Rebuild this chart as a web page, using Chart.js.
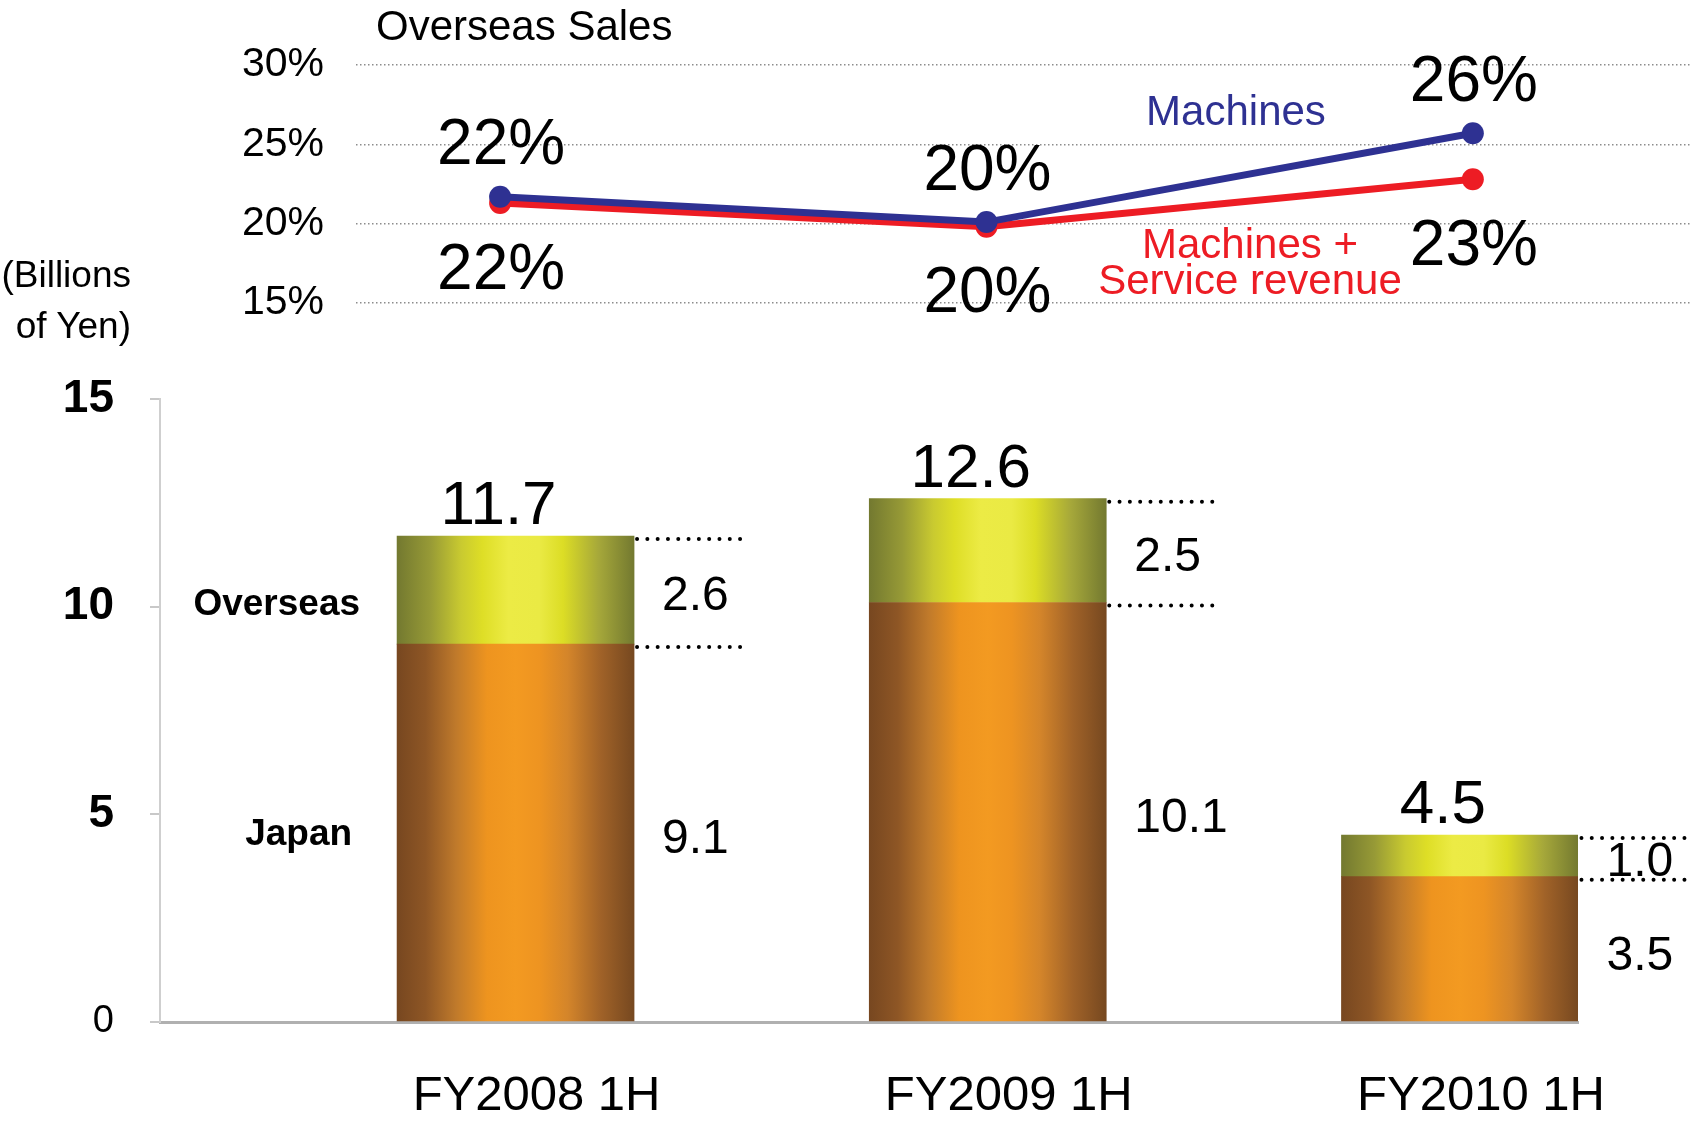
<!DOCTYPE html>
<html>
<head>
<meta charset="utf-8">
<script src="https://cdn.jsdelivr.net/npm/chart.js@4.4.1/dist/chart.umd.min.js"></script>
<style>
html,body{margin:0;padding:0;background:#fff;width:1701px;height:1125px;overflow:hidden;font-family:"Liberation Sans",Arial,sans-serif;}
#wrap{position:relative;width:1701px;height:1125px;}
canvas{position:absolute;left:0;top:0;}
.t{position:absolute;white-space:nowrap;line-height:1;color:#000;}
.c{transform:translateX(-50%);}
.r{transform:translateX(-100%);}
</style>
</head>
<body>
<div id="wrap">
<canvas id="bars" width="1701" height="1125"></canvas>
<canvas id="lines" width="1701" height="1125"></canvas>
<div class="t" style="left:376px;top:5px;font-size:42px;">Overseas Sales</div>
<div class="t r" style="left:131px;top:256px;font-size:37px;">(Billions</div>
<div class="t r" style="left:131px;top:307px;font-size:37px;">of Yen)</div>
<div class="t c" style="left:1236px;top:90px;font-size:42px;color:#2E3192;">Machines</div>
<div class="t c" style="left:1250px;top:223px;font-size:42px;color:#ED1C24;">Machines +</div>
<div class="t c" style="left:1250px;top:259px;font-size:42px;color:#ED1C24;">Service revenue</div>
</div>
<script>
// ---------------- data ----------------
const categories = ['FY2008 1H', 'FY2009 1H', 'FY2010 1H'];
const japanSales = [9.1, 10.1, 3.5];          // billions of yen
const overseasSales = [2.6, 2.5, 1.0];        // billions of yen
const amountTicks = [0, 5, 10, 15];
const machinesRatio = [21.7, 20.1, 25.7];          // overseas share, machines (%)
const machinesServiceRatio = [21.3, 19.8, 22.8];   // overseas share, machines + service (%)
const machinesRatioLabels = ['22%', '20%', '26%'];
const machinesServiceRatioLabels = ['22%', '20%', '23%'];
const ratioTicks = [15, 20, 25, 30];

// ---------------- styles ----------------
const FONT = '"Liberation Sans", Arial, sans-serif';
Chart.defaults.font.family = FONT;
Chart.defaults.color = '#000';
const BAR_W = 237;
const orangeStops = [[0,'#774720'],[0.12,'#8E5625'],[0.25,'#C07A2B'],[0.38,'#EE941F'],[0.5,'#F39A21'],[0.6,'#EE9421'],[0.72,'#D4852A'],[0.86,'#A06228'],[1,'#764820']];
const yellowStops = [[0,'#737930'],[0.14,'#979A36'],[0.27,'#C9CA30'],[0.36,'#DEDE26'],[0.47,'#ECEB45'],[0.6,'#EAEA44'],[0.7,'#DCDD25'],[0.85,'#A6A83A'],[1,'#737930']];

function barGradient(c, stops) {
  const chart = c.chart;
  if (!chart.chartArea || c.type !== 'data') return stops[4][1];
  const cx = chart.scales.x.getPixelForValue(c.dataIndex + 1);
  const g = chart.ctx.createLinearGradient(cx - BAR_W / 2, 0, cx + BAR_W / 2, 0);
  stops.forEach(([o, col]) => g.addColorStop(o, col));
  return g;
}

// ---------------- bar annotations ----------------
const barAnnotations = {
  id: 'barAnnotations',
  afterDatasetsDraw(chart) {
    const { ctx, scales: { x, y } } = chart;
    ctx.save();
    const y0 = y.getPixelForValue(0);
    categories.forEach((cat, i) => {
      const cx = x.getPixelForValue(i + 1);
      const right = cx + BAR_W / 2;
      const total = japanSales[i] + overseasSales[i];
      const yJ = y.getPixelForValue(japanSales[i]);
      const yT = y.getPixelForValue(total);
      // dotted leader lines
      ctx.strokeStyle = '#000';
      ctx.lineWidth = 4;
      ctx.lineCap = 'round';
      ctx.setLineDash([0, 10.3]);
      [yT, yJ].forEach(yy => {
        ctx.beginPath();
        ctx.moveTo(right + 3, yy + 3);
        ctx.lineTo(right + 113, yy + 3);
        ctx.stroke();
      });
      ctx.setLineDash([]);
      // total above bar
      ctx.fillStyle = '#000';
      ctx.font = '62px ' + FONT;
      ctx.textAlign = 'center';
      ctx.textBaseline = 'alphabetic';
      ctx.fillText(total.toFixed(1), cx - 17, yT - 12);
      // segment values
      ctx.font = '48px ' + FONT;
      ctx.textAlign = 'left';
      ctx.textBaseline = 'middle';
      ctx.fillText(overseasSales[i].toFixed(1), right + 28, (yT + yJ) / 2 + 7);
      ctx.fillText(japanSales[i].toFixed(1), right + 28, (yJ + y0) / 2 + 7);
      // series names beside first bar
      if (i === 0) {
        const left = cx - BAR_W / 2;
        ctx.font = 'bold 37px ' + FONT;
        ctx.textAlign = 'right';
        ctx.fillText('Overseas', left - 37, (yT + yJ) / 2 + 15);
        ctx.fillText('Japan', left - 45, (yJ + y0) / 2 + 2);
      }
    });
    ctx.restore();
  }
};

new Chart(document.getElementById('bars'), {
  type: 'bar',
  data: {
    datasets: [
      { label: 'Japan', data: japanSales.map((v, i) => ({ x: i + 1, y: v })),
        backgroundColor: c => barGradient(c, orangeStops), barThickness: BAR_W, borderWidth: 0 },
      { label: 'Overseas', data: overseasSales.map((v, i) => ({ x: i + 1, y: v })),
        backgroundColor: c => barGradient(c, yellowStops), barThickness: BAR_W, borderWidth: 0 }
    ]
  },
  options: {
    responsive: false, animation: false, events: [],
    layout: { padding: { top: 399, right: 123, left: 0, bottom: 0 } },
    plugins: { legend: { display: false }, tooltip: { enabled: false } },
    scales: {
      x: {
        type: 'linear', stacked: true, min: 0.247, max: 3.25, offset: false,
        afterBuildTicks: s => { s.ticks = categories.map((c, i) => ({ value: i + 1 })); },
        afterFit: s => { s.height = 103; },
        grid: { display: false, drawTicks: false },
        border: { display: true, color: '#b0b0b0', width: 3 },
        ticks: { autoSkip: false, maxRotation: 0, padding: 45, labelOffset: 21,
          font: { size: 49 }, callback: v => categories[v - 1] }
      },
      y: {
        stacked: true, min: 0, max: 15,
        afterBuildTicks: s => { s.ticks = amountTicks.map(v => ({ value: v })); },
        afterFit: s => { s.width = 160; },
        grid: { drawOnChartArea: false, drawTicks: true, tickLength: 10, color: '#c8c8c8', lineWidth: 2 },
        border: { display: true, color: '#cfcfcf', width: 2 },
        ticks: { padding: 36,
          font: c => (c.tick && c.tick.value === 0) ? { size: 38, weight: 'normal' } : { size: 46, weight: 'bold' } }
      }
    }
  },
  plugins: [barAnnotations]
});

// ---------------- line chart ----------------
const lineLabels = {
  id: 'lineLabels',
  afterDatasetsDraw(chart) {
    const ctx = chart.ctx;
    ctx.save();
    ctx.font = '64px ' + FONT;
    ctx.fillStyle = '#000';
    ctx.textAlign = 'center';
    ctx.textBaseline = 'middle';
    chart.getDatasetMeta(0).data.forEach((p, i) => ctx.fillText(machinesRatioLabels[i], p.x + 1, p.y - 50));
    chart.getDatasetMeta(1).data.forEach((p, i) => ctx.fillText(machinesServiceRatioLabels[i], p.x + 1, p.y + 68));
    ctx.restore();
  }
};

new Chart(document.getElementById('lines'), {
  type: 'line',
  data: {
    datasets: [
      { label: 'Machines', data: machinesRatio.map((v, i) => ({ x: i + 1, y: v })),
        borderColor: '#2E3192', backgroundColor: '#2E3192', borderWidth: 7,
        pointRadius: 11, pointBorderWidth: 0, pointBackgroundColor: '#2E3192', tension: 0, clip: false },
      { label: 'Machines + Service revenue', data: machinesServiceRatio.map((v, i) => ({ x: i + 1, y: v })),
        borderColor: '#ED1C24', backgroundColor: '#ED1C24', borderWidth: 7,
        pointRadius: 11, pointBorderWidth: 0, pointBackgroundColor: '#ED1C24', tension: 0, clip: false }
    ]
  },
  options: {
    responsive: false, animation: false, events: [],
    layout: { padding: { top: 65, bottom: 1125 - 303, left: 0, right: 0 } },
    plugins: { legend: { display: false }, tooltip: { enabled: false } },
    scales: {
      x: { type: 'linear', min: 0.7037, max: 3.4465, display: false },
      y: {
        min: 15, max: 30,
        afterBuildTicks: s => { s.ticks = ratioTicks.map(v => ({ value: v })); },
        afterFit: s => { s.width = 356; },
        grid: { color: '#8c8c8c', lineWidth: 1.5, drawTicks: false },
        border: { display: false, dash: [1.5, 2.5] },
        ticks: { padding: 32, font: { size: 41 }, callback: v => v + '%' }
      }
    }
  },
  plugins: [lineLabels]
});
</script>
</body>
</html>
